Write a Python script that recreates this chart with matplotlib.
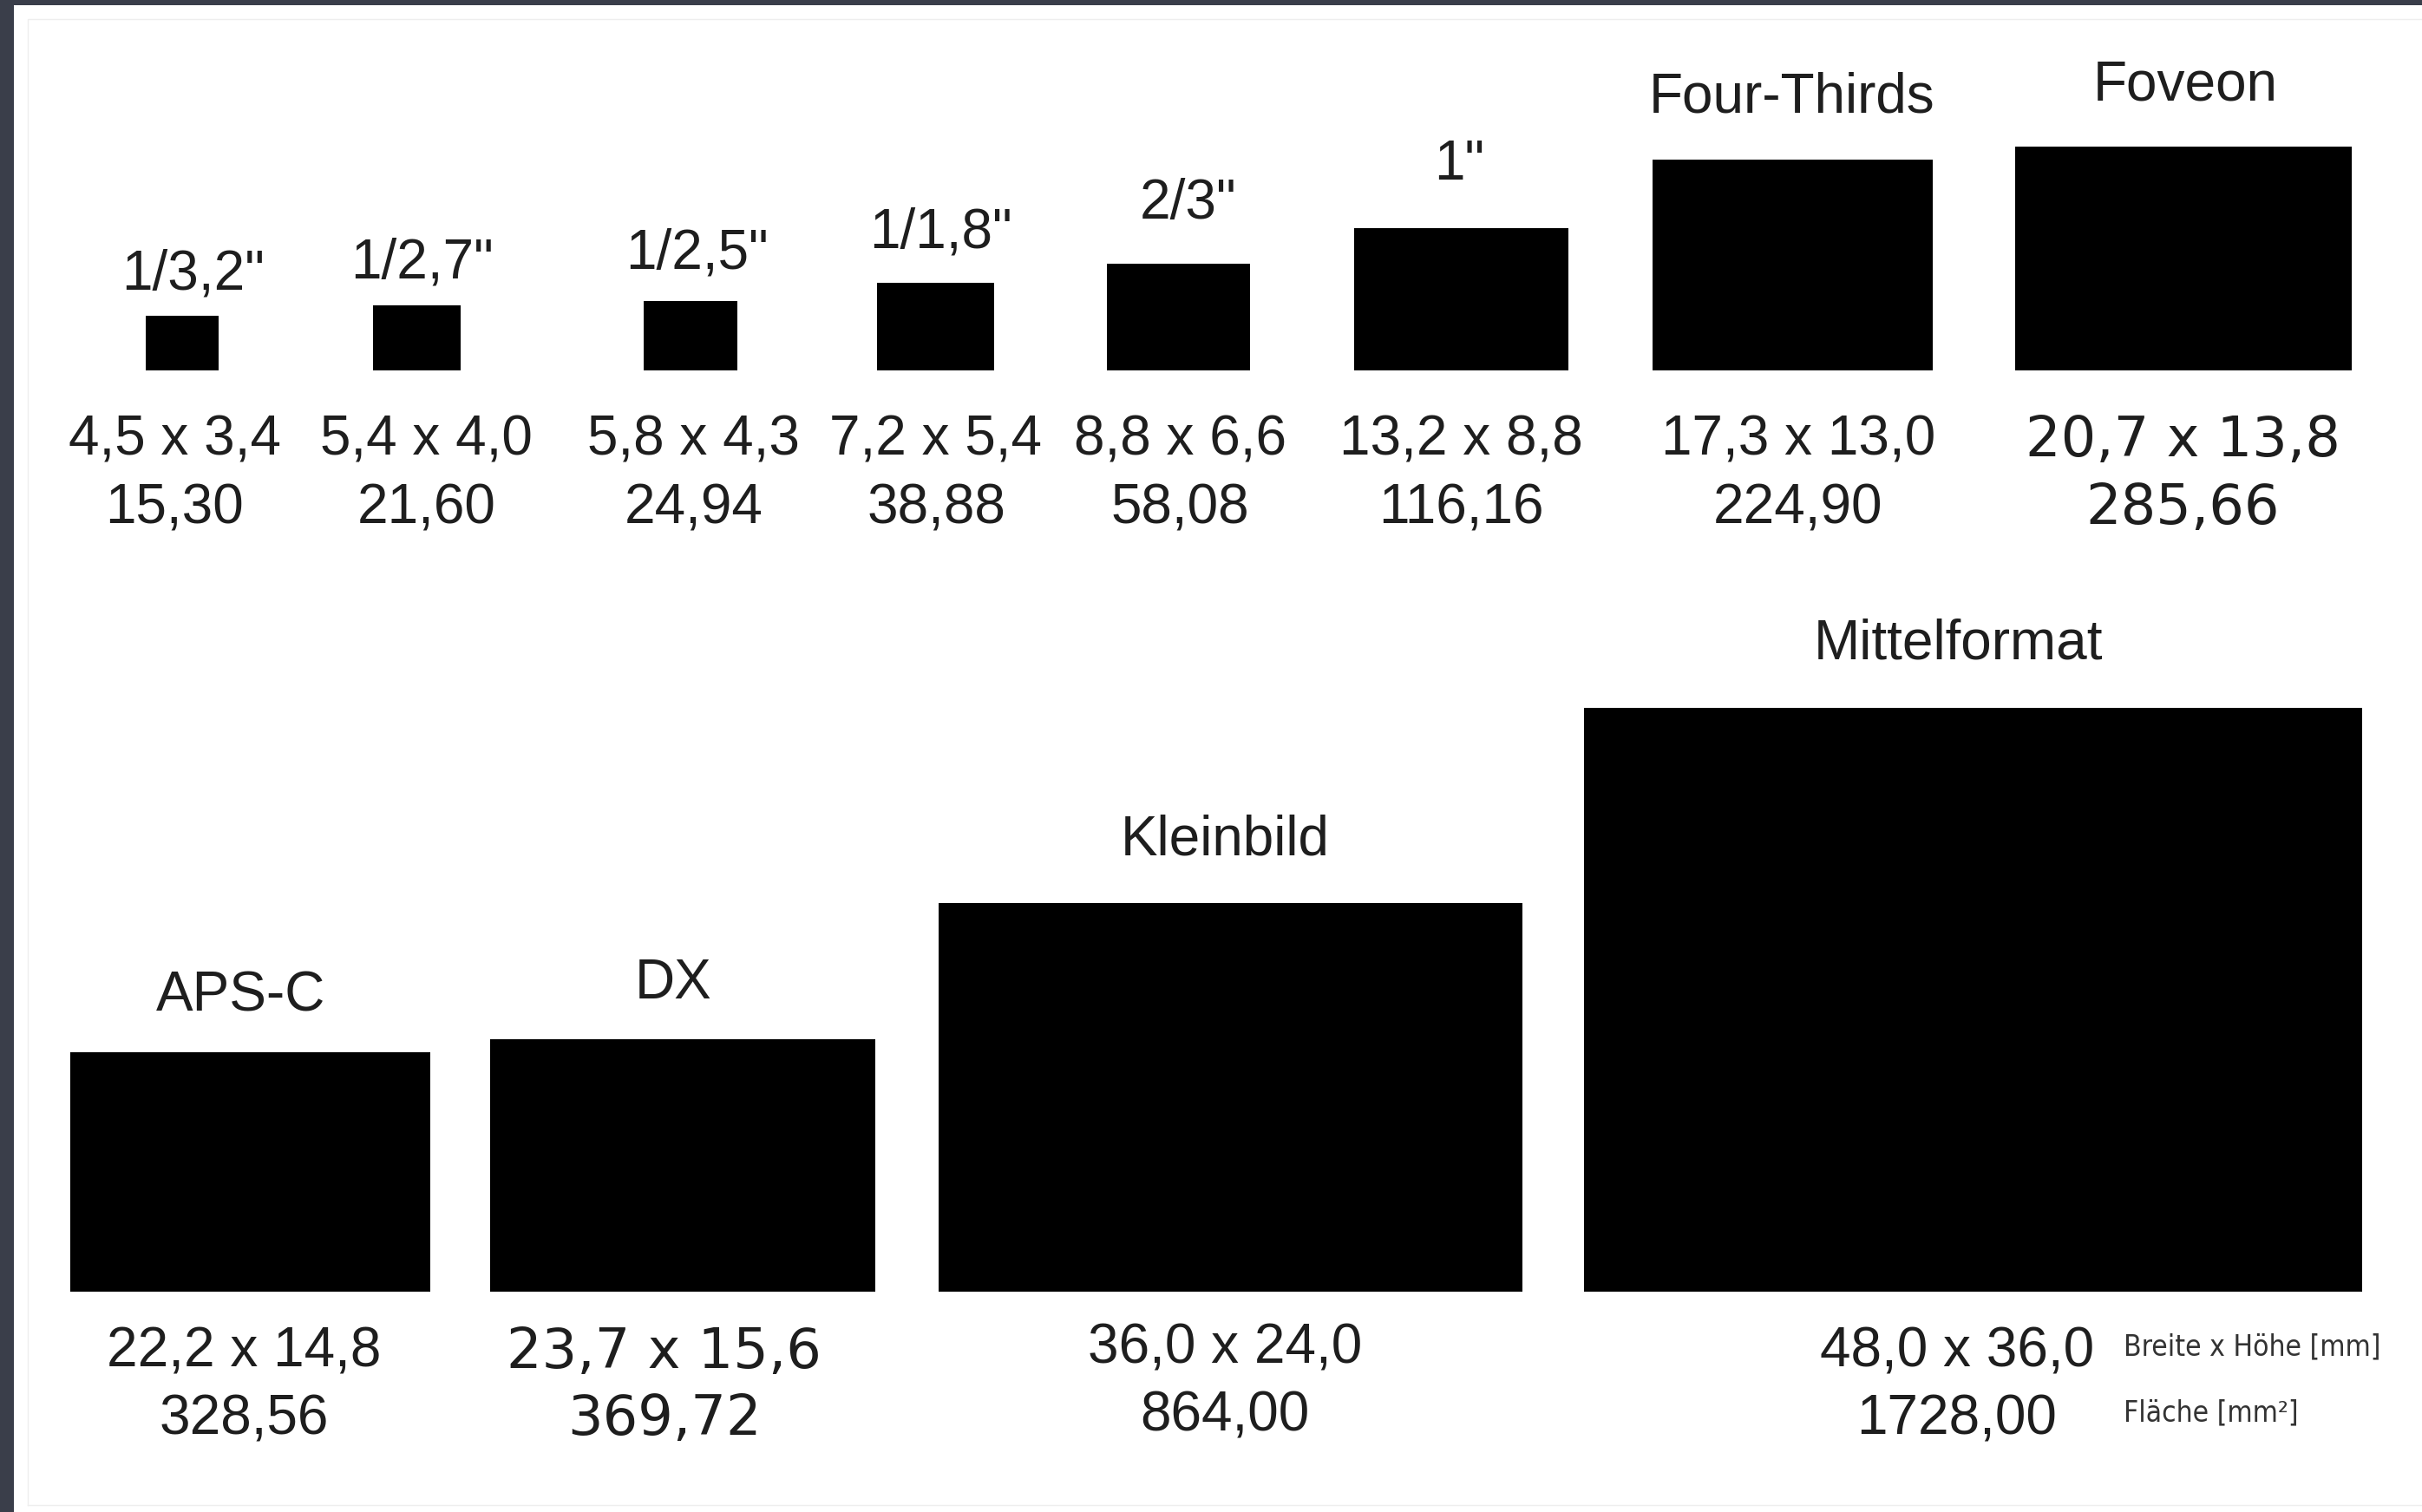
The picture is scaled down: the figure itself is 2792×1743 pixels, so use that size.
import matplotlib
matplotlib.use("Agg")
import matplotlib.pyplot as plt
from matplotlib.patches import Rectangle

# sensor formats, width x height in mm
top_names = ['1/3,2"', '1/2,7"', '1/2,5"', '1/1,8"', '2/3"', '1"', 'Four-Thirds', 'Foveon']
top_w = [4.5, 5.4, 5.8, 7.2, 8.8, 13.2, 17.3, 20.7]
top_h = [3.4, 4.0, 4.3, 5.4, 6.6, 8.8, 13.0, 13.8]
top_area = [15.30, 21.60, 24.94, 38.88, 58.08, 116.16, 224.90, 285.66]

bot_names = ['APS-C', 'DX', 'Kleinbild', 'Mittelformat']
bot_w = [22.2, 23.7, 36.0, 48.0]
bot_h = [14.8, 15.6, 24.0, 36.0]
bot_area = [328.56, 369.72, 864.00, 1728.00]

legend_lines = ['Breite x Höhe [mm]', 'Fläche [mm²]']

# layout (mm on the drawing)
s = 18.7                      # pixels per mm
W, H = 2792, 1743
top_cx = [11.24, 25.71, 42.56, 57.66, 72.65, 90.08, 110.5, 134.6]   # rect centres
top_lx = [11.90, 26.00, 42.94, 57.99, 73.22, 89.98, 110.46, 134.74]  # name centres
top_tx = [10.76, 26.28, 42.75, 57.70, 72.75, 90.08, 110.84, 134.55]  # number centres
top_gap = [1.6, 1.7, 2.0, 2.2, 2.8, 3.0, 2.9, 2.9]
top_base = 22.85
top_dim_y, top_area_y = 27.15, 31.35
top_font = ['L'] * 7 + ['D']

bot_cx = [15.43, 42.09, 75.84, 121.64]
bot_lx = [14.85, 41.52, 75.51, 120.74]
bot_tx = [15.04, 40.94, 75.51, 120.64]
bot_gap = [2.5, 2.5, 2.95, 3.05]
bot_base = 79.65
bot_dim_y = [83.35, 83.35, 83.15, 83.35]
bot_area_y = [87.5, 87.5, 87.3, 87.5]
bot_font = ['L', 'D', 'L', 'L']

fams = {'L': ['Liberation Sans', 'DejaVu Sans'], 'D': ['DejaVu Sans']}
fs = 46
col = '#1e1e1e'

fig = plt.figure(figsize=(W / 100, H / 100), dpi=100, facecolor='#3a3e4a')
ax = fig.add_axes([16 / W, 0, 1 - 16 / W, 1 - 6 / H])
ax.set_facecolor('white')
ax.set_xlim(16 / s, W / s)
ax.set_ylim(H / s, 6 / s)
for sp in ax.spines.values():
    sp.set_visible(False)
ax.set_xticks([])
ax.set_yticks([])

# faint inner frame
ax.plot([32 / s, 32 / s, W / s], [1735 / s, 22 / s, 22 / s], color='#eeeeee', lw=1)
ax.plot([32 / s, W / s], [1735 / s, 1735 / s], color='#eeeeee', lw=1)


def fmt(v, d):
    return f"{v:.{d}f}".replace('.', ',')


def row(names, ws, hs, areas, cx, lx, tx, gap, base, dim_y, area_y, fonts):
    for i in range(len(names)):
        w, h = ws[i], hs[i]
        ax.add_patch(Rectangle((cx[i] - w / 2, base - h), w, h, color='black', lw=0))
        ax.text(lx[i], base - h - gap[i], names[i], ha='center', va='baseline',
                fontsize=fs, color=col, family=fams['L'])
        dy = dim_y[i] if isinstance(dim_y, list) else dim_y
        ay = area_y[i] if isinstance(area_y, list) else area_y
        ax.text(tx[i], dy, f"{fmt(w, 1)} x {fmt(h, 1)}", ha='center', va='center',
                fontsize=fs, color=col, family=fams[fonts[i]])
        ax.text(tx[i], ay, fmt(areas[i], 2), ha='center', va='center',
                fontsize=fs, color=col, family=fams[fonts[i]])


row(top_names, top_w, top_h, top_area, top_cx, top_lx, top_tx, top_gap, top_base,
    top_dim_y, top_area_y, top_font)
row(bot_names, bot_w, bot_h, bot_area, bot_cx, bot_lx, bot_tx, bot_gap, bot_base,
    bot_dim_y, bot_area_y, bot_font)

# small unit legend, condensed face
ax.text(130.93, 83.03, legend_lines[0], ha='left', va='center', fontsize=24,
        color='#333333', family=['DejaVu Sans'], fontstretch='condensed')
ax.text(130.93, 87.13, legend_lines[1], ha='left', va='center', fontsize=24,
        color='#333333', family=['DejaVu Sans'], fontstretch='condensed')

fig.savefig('out.png', dpi=100, facecolor=fig.get_facecolor())
